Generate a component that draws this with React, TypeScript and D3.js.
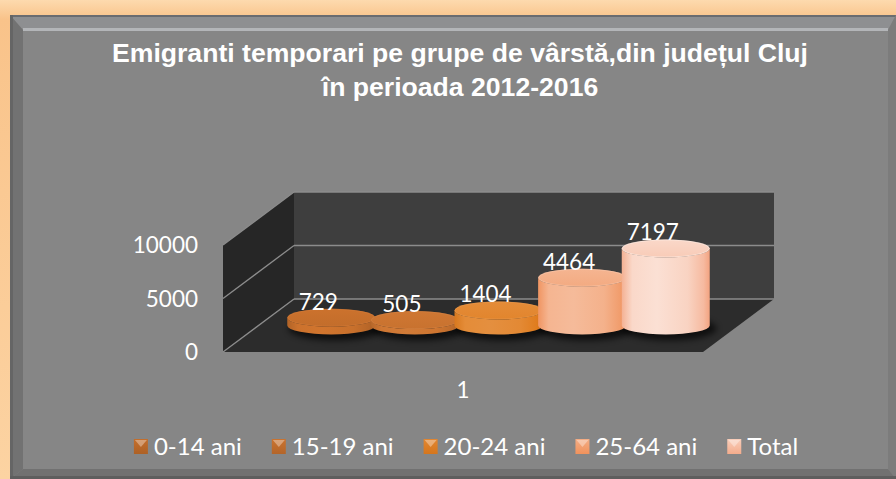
import React, { useMemo } from "react";
import * as d3 from "d3";

const categories = ["1"];
const seriesNames = ["0-14 ani", "15-19 ani", "20-24 ani", "25-64 ani", "Total"];
const values = [729, 505, 1404, 4464, 7197];
const yTicks = [0, 5000, 10000];
const seriesColors = ["#C8702C", "#CE7530", "#E38934", "#F4B18B", "#F9D3C2"];
const titleLines = [
  "Emigranti temporari pe grupe de vârstă,din județul Cluj",
  "în perioada 2012-2016",
];

const W = 896;
const H = 479;
const FRONT_L = 223;
const FRONT_R = 703;
const DX = 71;
const DY = -53;
const RX = 44;
const RY = 9;
const LABEL_FONT = "Lato, 'Open Sans', sans-serif";

function measure(text: string, font: string): number {
  if (typeof document === "undefined") return text.length * 11;
  const c = document.createElement("canvas");
  const ctx = c.getContext("2d");
  if (!ctx) return text.length * 11;
  ctx.font = font;
  return ctx.measureText(text).width;
}

export default function App() {
  const y = d3.scaleLinear().domain([0, 10000]).range([352, 245]);
  const xCat = d3.scaleBand<string>().domain(categories).range([FRONT_L, FRONT_R]);
  const xSer = d3
    .scaleBand<string>()
    .domain(seriesNames)
    .range([FRONT_L + DX / 2, FRONT_R + DX / 2])
    .paddingOuter(0.37)
    .paddingInner(0);

  const y0 = y(0);
  const baseY = y0 + DY / 2;

  const legendFontSize = 24;
  const legend = useMemo(() => {
    const widths = seriesNames.map((s) => measure(s, `${legendFontSize}px Lato`));
    const key = 14;
    const gapKey = 6;
    const gapItem = 30;
    const total =
      widths.reduce((a, b) => a + b, 0) + seriesNames.length * (key + gapKey) + gapItem * (seriesNames.length - 1);
    let x = 466 - total / 2;
    return seriesNames.map((s, i) => {
      const item = { name: s, x, color: seriesColors[i] };
      x += key + gapKey + widths[i] + gapItem;
      return item;
    });
  }, []);

  const gridPts = yTicks.map((t) => ({ t, yf: y(t) }));
  const yTop = y(10000);

  const shade = (c: string, k: number) => {
    const col = d3.hsl(c);
    return k > 0 ? col.brighter(k).formatHex() : col.darker(-k).formatHex();
  };

  return (
    <svg width={W} height={H} style={{ position: "absolute", left: 0, top: 0 }}>
      <defs>
        <linearGradient id="frame" x1="0" y1="0" x2="0" y2="1">
          <stop offset="0" stopColor="#FDDAAE" />
          <stop offset="0.04" stopColor="#F9C38A" />
          <stop offset="1" stopColor="#FCD3A2" />
        </linearGradient>
        <filter id="blur" x="-50%" y="-50%" width="200%" height="200%">
          <feGaussianBlur stdDeviation="3" />
        </filter>
        {seriesColors.map((c, i) => (
          <linearGradient key={i} id={`body${i}`} x1="0" y1="0" x2="1" y2="0">
            <stop offset="0" stopColor={shade(c, -0.35)} />
            <stop offset="0.12" stopColor={shade(c, 0.05)} />
            <stop offset="0.4" stopColor={shade(c, 0.12)} />
            <stop offset="0.75" stopColor={c} />
            <stop offset="0.93" stopColor={shade(c, -0.25)} />
            <stop offset="1" stopColor={shade(c, -0.5)} />
          </linearGradient>
        ))}
        {seriesColors.map((c, i) => (
          <linearGradient key={i} id={`top${i}`} x1="0" y1="0" x2="0" y2="1">
            <stop offset="0" stopColor={shade(c, 0.05)} />
            <stop offset="1" stopColor={shade(c, -0.08)} />
          </linearGradient>
        ))}
        {seriesColors.map((c, i) => (
          <linearGradient key={i} id={`key${i}`} x1="0" y1="0" x2="0" y2="1">
            <stop offset="0" stopColor={shade(c, -0.05)} />
            <stop offset="1" stopColor={shade(c, -0.4)} />
          </linearGradient>
        ))}
      </defs>

      {/* outer peach frame */}
      <rect x={0} y={0} width={W} height={H} fill="url(#frame)" />
      {/* gray panel */}
      <rect x={10} y={15} width={W - 10} height={H - 15} fill="#868686" />
      {/* bevels */}
      <polygon points={`10,15 ${W},15 ${W - 8},30 23,30`} fill="#8e8f91" />
      <rect x={10} y={15} width={W - 10} height={2} fill="#6a6c70" />
      <polygon points={`23,28 ${W - 8},28 ${W - 8},31 23,31`} fill="#b3b5b8" />
      <polygon points={`10,15 23,30 23,${H - 10} 10,${H}`} fill="#727272" />
      <rect x={10} y={15} width={3} height={H - 15} fill="#656565" />
      <polygon points={`${W},15 ${W},${H} ${W - 8},${H - 10} ${W - 8},30`} fill="#7c7c7c" />
      <polygon points={`10,${H} ${W},${H} ${W - 8},${H - 10} 23,${H - 10}`} fill="#717171" />
      <rect x={10} y={H - 3} width={W - 10} height={3} fill="#5e5e5e" />

      {/* title */}
      {titleLines.map((t, i) => (
        <text
          key={i}
          x={460}
          y={62 + i * 34}
          textAnchor="middle"
          fill="#ffffff"
          fontFamily="'Liberation Sans', Arial, sans-serif"
          fontWeight="bold"
          fontSize={26.6}
        >
          {t}
        </text>
      ))}

      {/* back wall */}
      <polygon
        points={`${FRONT_L + DX},${yTop + DY} ${FRONT_R + DX},${yTop + DY} ${FRONT_R + DX},${y0 + DY} ${FRONT_L + DX},${y0 + DY}`}
        fill="#3e3e3e"
      />
      {/* left wall */}
      <polygon
        points={`${FRONT_L},${yTop} ${FRONT_L + DX},${yTop + DY} ${FRONT_L + DX},${y0 + DY} ${FRONT_L},${y0}`}
        fill="#262626"
      />
      {/* floor */}
      <polygon
        points={`${FRONT_L},${y0} ${FRONT_R},${y0} ${FRONT_R + DX},${y0 + DY} ${FRONT_L + DX},${y0 + DY}`}
        fill="#2c2c2c"
      />
      {/* gridlines */}
      {gridPts.map((g) => (
        <g key={g.t} stroke="#8c8c8c" strokeWidth={1.3}>
          <line x1={FRONT_L + DX} y1={g.yf + DY} x2={FRONT_R + DX} y2={g.yf + DY} />
          <line x1={FRONT_L} y1={g.yf} x2={FRONT_L + DX} y2={g.yf + DY} />
        </g>
      ))}

      {/* y axis labels */}
      {yTicks.map((t) => (
        <text
          key={t}
          x={198}
          y={y(t)}
          dy="0.36em"
          textAnchor="end"
          fill="#ffffff"
          fontFamily={LABEL_FONT}
          fontSize={22.5}
        >
          {t}
        </text>
      ))}

      {/* category label */}
      {categories.map((c) => (
        <text
          key={c}
          x={(xCat(c) as number) + xCat.bandwidth() / 2}
          y={398}
          textAnchor="middle"
          fill="#ffffff"
          fontFamily={LABEL_FONT}
          fontSize={22.5}
        >
          {c}
        </text>
      ))}

      {/* cylinder shadows */}
      {seriesNames.map((s) => {
        const cx = (xSer(s) as number) + xSer.bandwidth() / 2;
        return (
          <ellipse
            key={`sh${s}`}
            cx={cx + 4}
            cy={baseY + 3}
            rx={RX + 3}
            ry={RY + 3}
            fill="#000"
            opacity={0.65}
            filter="url(#blur)"
          />
        );
      })}
      {seriesNames.map((s, i) => {
        const cx = (xSer(s) as number) + xSer.bandwidth() / 2;
        const h = y0 - y(values[i]);
        const top = baseY - h;
        const body = `M${cx - RX},${top} L${cx - RX},${baseY} A${RX},${RY} 0 0 0 ${cx + RX},${baseY} L${cx + RX},${top} A${RX},${RY} 0 0 1 ${cx - RX},${top} Z`;
        return (
          <g key={s}>
            <path d={body} fill={`url(#body${i})`} />
            <ellipse cx={cx} cy={top} rx={RX} ry={RY} fill={`url(#top${i})`} />
            <ellipse
              cx={cx}
              cy={top}
              rx={RX - 0.5}
              ry={RY - 0.5}
              fill="none"
              stroke={shade(seriesColors[i], 0.25)}
              strokeWidth={0.8}
              opacity={0.7}
            />
          </g>
        );
      })}
      {/* data labels */}
      {seriesNames.map((s, i) => {
        const cx = (xSer(s) as number) + xSer.bandwidth() / 2;
        const h = y0 - y(values[i]);
        const top = baseY - h;
        return (
          <text
            key={`l${s}`}
            x={cx - 13}
            y={top - RY + 1}
            textAnchor="middle"
            fill="#ffffff"
            fontFamily={LABEL_FONT}
            fontSize={22.5}
          >
            {values[i]}
          </text>
        );
      })}

      {/* legend */}
      {legend.map((l, i) => (
        <g key={l.name}>
          <rect x={l.x} y={439} width={14} height={15} fill={`url(#key${i})`} />
          <polygon
            points={`${l.x + 1},${440} ${l.x + 13},${440} ${l.x + 7},${447}`}
            fill="#ffffff"
            opacity={0.35}
          />
          <text
            x={l.x + 20}
            y={446}
            dy="0.36em"
            fill="#ffffff"
            fontFamily={LABEL_FONT}
            fontSize={legendFontSize}
          >
            {l.name}
          </text>
        </g>
      ))}
    </svg>
  );
}
